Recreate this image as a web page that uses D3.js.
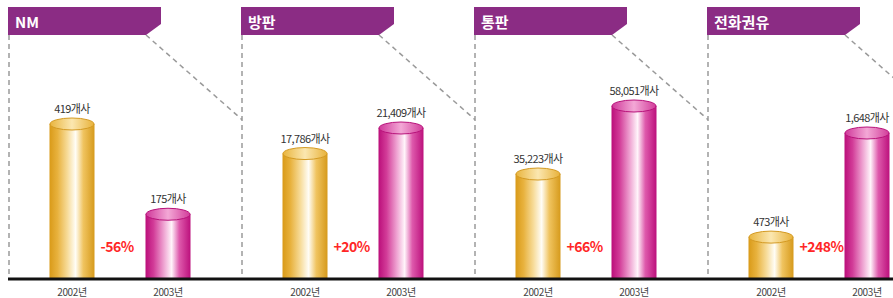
<!DOCTYPE html>
<head>
<meta charset="utf-8">
<title>방문판매 유형별 업체 수</title>
<style>
  body { margin: 0; background: #fff; }
  text { font-family: "Noto Sans CJK KR", "Noto Sans", sans-serif; }
</style>
</head>
<body>
<svg width="893" height="298"></svg>
<script src="https://d3js.org/d3.v7.min.js"></script>
<script>
    // data
    var categories = ["NM", "방판", "통판", "전화권유"];
    var years = ["2002년", "2003년"];
    var values2002 = [419, 17786, 35223, 473];
    var values2003 = [175, 21409, 58051, 1648];
    var changes = ["-56%", "+20%", "+66%", "+248%"];

    var svg = d3.select("svg"),
        width = +svg.attr("width"),
        height = +svg.attr("height");

    var baseline = 279,
        bannerTop = 7,
        bannerBottom = 35,
        bannerW = 153,
        barW = 45,
        ry = 6;

    // each panel has its own value scale; pixel top of the tallest bar per panel
    var panelTop = [124, 128, 106, 133];

    var panel = d3.scaleBand()
        .domain(categories)
        .range([8, 8 + 4 * 233]);

    var xYear = d3.scalePoint()
        .domain(years)
        .range([64, 160]);

    var fmt = d3.format(",");

    // gradients for the cylinders
    var defs = svg.append("defs");
    function grad(id, stops) {
        var g = defs.append("linearGradient").attr("id", id)
            .attr("x1", "0%").attr("x2", "100%").attr("y1", "0%").attr("y2", "0%");
        stops.forEach(function(s) {
            g.append("stop").attr("offset", s[0]).attr("stop-color", s[1]);
        });
    }
    grad("gold", [["0%", "#d99a18"], ["18%", "#e8b23e"], ["40%", "#f7dc9a"], ["58%", "#fffdf6"], ["75%", "#f0c460"], ["100%", "#d69a1c"]]);
    grad("goldTop", [["0%", "#e9b53e"], ["50%", "#fbe7b0"], ["100%", "#e8b23a"]]);
    grad("pink", [["0%", "#bb0e7a"], ["18%", "#d23c98"], ["40%", "#eea0d0"], ["58%", "#fff4fa"], ["75%", "#de5aac"], ["100%", "#bc107c"]]);
    grad("pinkTop", [["0%", "#d0389a"], ["50%", "#f3a8d6"], ["100%", "#d23c9a"]]);

    var styles = [
        { body: "url(#gold)", top: "url(#goldTop)", edge: "#d49a22" },
        { body: "url(#pink)", top: "url(#pinkTop)", edge: "#b8127a" }
    ];

    // dashed frame lines
    var guides = svg.append("g")
        .attr("fill", "none")
        .attr("stroke", "#9a9a9a")
        .attr("stroke-width", 1.5)
        .attr("stroke-dasharray", "5,4");

    categories.forEach(function(c, i) {
        var x0 = panel(c);
        guides.append("line")
            .attr("x1", x0 + 1).attr("y1", bannerBottom)
            .attr("x2", x0 + 1).attr("y2", baseline);
        var sx = x0 + bannerW - 15;
        var ex = i < categories.length - 1 ? panel(categories[i + 1]) + 1 : sx + 120;
        var slope = 82 / 93;
        guides.append("line")
            .attr("x1", sx).attr("y1", bannerBottom)
            .attr("x2", ex).attr("y2", bannerBottom + (ex - sx) * slope);
    });

    // panels
    categories.forEach(function(c, i) {
        var x0 = panel(c);
        var g = svg.append("g").attr("transform", "translate(" + x0 + ",0)");

        // banner
        g.append("path")
            .attr("d", "M0," + bannerTop + "H" + bannerW + "V" + (bannerTop + 17) +
                "L" + (bannerW - 15) + "," + bannerBottom + "H0Z")
            .attr("fill", "#8b2c84");
        g.append("text")
            .attr("x", 7)
            .attr("y", 28)
            .attr("fill", "#fff")
            .attr("font-size", 15)
            .attr("font-weight", "bold")
            .text(c);

        var y = d3.scaleLinear()
            .domain([0, Math.max(values2002[i], values2003[i])])
            .range([baseline, panelTop[i]]);

        var vals = [values2002[i], values2003[i]];
        vals.forEach(function(v, j) {
            var cx = xYear(years[j]);
            var st = styles[j];
            g.append("rect")
                .attr("x", cx - barW / 2)
                .attr("y", y(v))
                .attr("width", barW)
                .attr("height", baseline - y(v))
                .attr("fill", st.body);
            g.append("ellipse")
                .attr("cx", cx)
                .attr("cy", y(v))
                .attr("rx", barW / 2 - 0.5)
                .attr("ry", ry)
                .attr("fill", st.top)
                .attr("stroke", st.edge)
                .attr("stroke-width", 1);
            g.append("text")
                .attr("x", cx)
                .attr("y", y(v) - ry - 5)
                .attr("text-anchor", "middle")
                .attr("font-size", 11)
                .attr("letter-spacing", -0.6)
                .attr("fill", "#333")
                .text(fmt(v) + "개사");
            g.append("text")
                .attr("x", cx)
                .attr("y", 296)
                .attr("text-anchor", "middle")
                .attr("font-size", 10)
                .attr("letter-spacing", -0.4)
                .attr("fill", "#444")
                .text(years[j]);
        });

        g.append("text")
            .attr("x", xYear(years[0]) + barW / 2 + 6)
            .attr("y", 252)
            .attr("font-size", 14)
            .attr("font-weight", "bold")
            .attr("letter-spacing", -0.5)
            .attr("fill", "#ff2626")
            .text(changes[i]);
    });

    // baseline
    svg.append("line")
        .attr("x1", 8).attr("x2", width)
        .attr("y1", baseline).attr("y2", baseline)
        .attr("stroke", "#111")
        .attr("stroke-width", 3);
</script>
</body>
